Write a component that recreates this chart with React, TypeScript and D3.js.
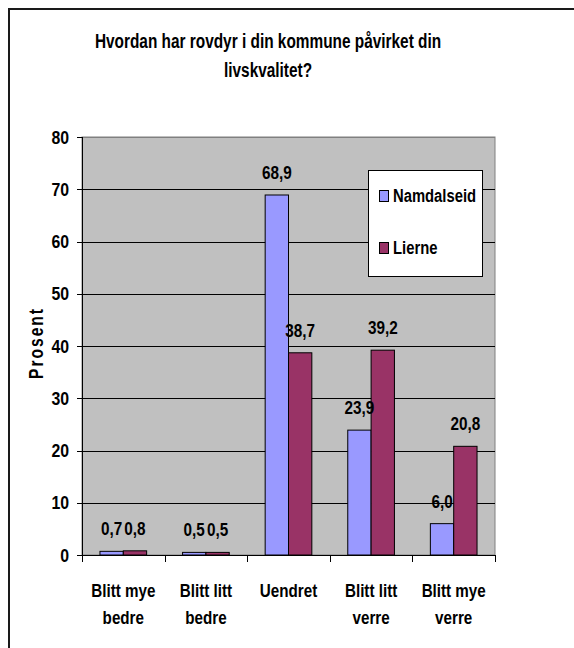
import React from "react";
import * as d3 from "d3";

const categories: string[][] = [
  ["Blitt mye", "bedre"],
  ["Blitt litt", "bedre"],
  ["Uendret"],
  ["Blitt litt", "verre"],
  ["Blitt mye", "verre"],
];
const seriesNames = ["Namdalseid", "Lierne"];
const namdalseid = [0.7, 0.5, 68.9, 23.9, 6.0];
const lierne = [0.8, 0.5, 38.7, 39.2, 20.8];
const seriesColors = ["#9999FF", "#993366"];
const yTicks = [0, 10, 20, 30, 40, 50, 60, 70, 80];
const titleLines = ["Hvordan har rovdyr i din kommune påvirket din", "livskvalitet?"];
const yTitle = "Prosent";

const FONT = "'Liberation Sans', Arial, Helvetica, sans-serif";

const fmt = d3
  .formatLocale({ decimal: ",", thousands: " ", grouping: [3], currency: ["", ""] })
  .format(".1f");

function T(props: {
  x: number;
  y: number;
  anchor?: "start" | "middle" | "end";
  size?: number;
  sx?: number;
  children: React.ReactNode;
}) {
  const { x, y, anchor = "middle", size = 19, sx = 0.8, children } = props;
  return (
    <text
      transform={`translate(${x},${y}) scale(${sx},1)`}
      textAnchor={anchor}
      fontFamily={FONT}
      fontWeight="bold"
      fontSize={size}
      fill="#000"
    >
      {children}
    </text>
  );
}

export default function App() {
  const W = 574;
  const H = 648;
  const plot = { left: 82, right: 495, top: 137, bottom: 555 };

  const keys = categories.map((c) => c.join(" "));
  const x0 = d3.scaleBand<string>().domain(keys).range([plot.left, plot.right]).padding(0);
  const bw = x0.bandwidth();
  const gw = bw * 0.565;
  const x1 = d3
    .scaleBand<string>()
    .domain(seriesNames)
    .range([(bw - gw) / 2, (bw + gw) / 2])
    .padding(0);
  const y = d3.scaleLinear().domain([0, 80]).range([plot.bottom, plot.top]);

  const seriesData = [namdalseid, lierne];
  const boundaries = d3.range(keys.length + 1).map((i) => plot.left + i * bw);

  return (
    <svg
      width={W}
      height={H}
      style={{ position: "absolute", left: 0, top: 0, background: "#fff" }}
    >
      <rect x={0} y={0} width={W} height={H} fill="#fff" />
      {/* outer frame */}
      <rect x={9} y={9} width={700} height={800} fill="none" stroke="#1a1a1a" strokeWidth={2} />

      {/* title */}
      {titleLines.map((l, i) => (
        <T key={i} x={268} y={48 + i * 29} size={20} sx={0.77}>
          {l}
        </T>
      ))}

      {/* plot area */}
      <rect
        x={plot.left}
        y={plot.top}
        width={plot.right - plot.left}
        height={plot.bottom - plot.top}
        fill="#C0C0C0"
        stroke="#808080"
        strokeWidth={1}
      />

      {/* gridlines */}
      {yTicks.slice(1).map((t) => (
        <line
          key={t}
          x1={plot.left - 5}
          x2={plot.right}
          y1={Math.round(y(t)) + 0.5}
          y2={Math.round(y(t)) + 0.5}
          stroke={t === 80 ? "#808080" : "#000"}
          strokeWidth={1}
        />
      ))}
      <line
        x1={plot.left - 5}
        x2={plot.left}
        y1={Math.round(y(80)) + 0.5}
        y2={Math.round(y(80)) + 0.5}
        stroke="#000"
      />

      {/* bars */}
      {seriesData.map((vals, si) =>
        vals.map((v, ci) => {
          const bx = (x0(keys[ci]) as number) + (x1(seriesNames[si]) as number);
          const top = y(v);
          return (
            <rect
              key={si + "-" + ci}
              x={bx}
              y={top}
              width={x1.bandwidth()}
              height={plot.bottom - top}
              fill={seriesColors[si]}
              stroke="#000"
              strokeWidth={1}
            />
          );
        })
      )}

      {/* axes */}
      <line x1={plot.left + 0.5} x2={plot.left + 0.5} y1={plot.top} y2={plot.bottom + 7} stroke="#000" />
      <line x1={plot.left} x2={plot.right} y1={plot.bottom + 0.5} y2={plot.bottom + 0.5} stroke="#000" />
      {boundaries.map((bx, i) => (
        <line
          key={"b" + i}
          x1={Math.round(bx) + 0.5}
          x2={Math.round(bx) + 0.5}
          y1={plot.bottom}
          y2={plot.bottom + 7}
          stroke="#000"
        />
      ))}
      <line x1={plot.left - 5} x2={plot.left} y1={plot.bottom + 0.5} y2={plot.bottom + 0.5} stroke="#000" />

      {/* y tick labels */}
      {yTicks.map((t) => (
        <T key={"yl" + t} x={69} y={y(t) + 6.5} anchor="end" size={18} sx={0.88}>
          {t}
        </T>
      ))}

      {/* y title */}
      <text
        transform={`translate(43,343) rotate(-90) scale(0.8,1)`}
        textAnchor="middle"
        fontFamily={FONT}
        fontWeight="bold"
        fontSize={19.5}
        letterSpacing={2.5}
      >
        {yTitle}
      </text>

      {/* value labels */}
      {seriesData.map((vals, si) =>
        vals.map((v, ci) => {
          const cx = (x0(keys[ci]) as number) + (x1(seriesNames[si]) as number) + x1.bandwidth() / 2;
          return (
            <T key={"vl" + si + ci} x={cx} y={y(v) - 16} size={18} sx={0.85}>
              {fmt(v)}
            </T>
          );
        })
      )}

      {/* category labels */}
      {categories.map((lines, ci) =>
        lines.map((l, li) => (
          <T key={"c" + ci + li} x={(x0(keys[ci]) as number) + bw / 2} y={597 + li * 27} size={19} sx={0.8}>
            {l}
          </T>
        ))
      )}

      {/* legend */}
      <rect x={368.5} y={170.5} width={114} height={106} fill="#fff" stroke="#000" strokeWidth={1} />
      {seriesNames.map((s, i) => (
        <g key={"lg" + s}>
          <rect
            x={379.5}
            y={190.5 + i * 52}
            width={9}
            height={11}
            fill={seriesColors[i]}
            stroke="#000"
            strokeWidth={1}
          />
          <T x={393} y={202 + i * 52} anchor="start" size={19} sx={0.78}>
            {s}
          </T>
        </g>
      ))}
    </svg>
  );
}
